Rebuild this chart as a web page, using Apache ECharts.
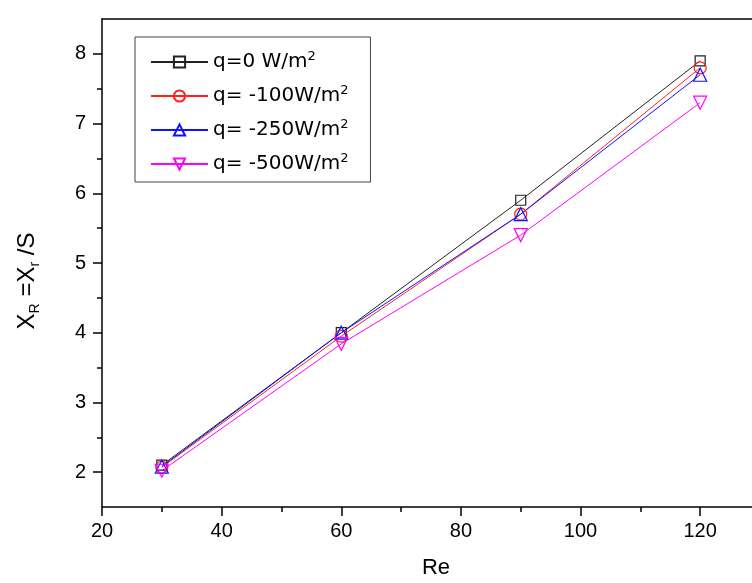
<!DOCTYPE html>
<html>
<head>
    <meta charset="utf-8" />
    <title>XR vs Re</title>
    <script src="https://cdn.jsdelivr.net/npm/echarts@6/dist/echarts.min.js"></script>
    <style>
        html, body { margin: 0; padding: 0; background: #fff; }
    </style>
</head>
<body>
    <div id="main" style="width: 752px;height:583px;"></div>
    <script type="text/javascript">
        // data
        var reValues = [30, 60, 90, 120];
        var q0 = [2.1, 4.0, 5.9, 7.9];
        var q100 = [2.07, 3.95, 5.7, 7.8];
        var q250 = [2.08, 4.0, 5.7, 7.7];
        var q500 = [2.02, 3.84, 5.4, 7.3];
        var seriesNames = ['q=0 W/m{sup|2}', 'q= -100W/m{sup|2}', 'q= -250W/m{sup|2}', 'q= -500W/m{sup|2}'];

        var xMajor = [20, 40, 60, 80, 100, 120];
        var xMinor = [30, 50, 70, 90, 110];
        var yMajor = [2, 3, 4, 5, 6, 7, 8];
        var yMinor = [2.5, 3.5, 4.5, 5.5, 6.5, 7.5];

        var font = 'Liberation Sans, Arial, sans-serif';
        var legendFont = 'DejaVu Sans, sans-serif';
        var myChart = echarts.init(document.getElementById('main'));

        function pairs(ys) {
            return reValues.map(function (x, i) { return [x, ys[i]]; });
        }

        function makeSeries(name, ys, color, symbol, rotate, size) {
            return {
                name: name,
                type: 'line',
                data: pairs(ys),
                symbol: symbol,
                symbolSize: size,
                symbolRotate: rotate,
                showAllSymbol: true,
                lineStyle: { color: color, width: 1 },
                itemStyle: { color: 'rgba(255,255,255,0)', borderColor: color, borderWidth: 1.2 },
                emphasis: { disabled: true },
                z: 3
            };
        }

        // the plot runs past the right edge of the picture (130 is just off-canvas)
        var xCommon = {
            type: 'value', min: 20, max: 130,
            axisLine: { lineStyle: { color: '#000', width: 1.5 } },
            splitLine: { show: false }
        };
        var yCommon = {
            type: 'value', min: 1.5, max: 8.5,
            axisLine: { lineStyle: { color: '#000', width: 1.5 } },
            splitLine: { show: false }
        };

        var option = {
            animation: false,
            textStyle: { fontFamily: font },
            grid: { left: 102, top: 19, right: -8, bottom: 76, outerBoundsMode: 'none', containLabel: false },
            legend: {
                orient: 'vertical',
                left: 135, top: 37,
                padding: [13, 22, 6, 15],
                itemWidth: 57, itemHeight: 14,
                itemGap: 10,
                borderColor: '#444', borderWidth: 1,
                textStyle: {
                    fontFamily: legendFont, fontSize: 20, color: '#000', lineHeight: 24,
                    rich: { sup: { fontSize: 13, verticalAlign: 'top', lineHeight: 14, color: '#000', fontFamily: legendFont } }
                }
            },
            xAxis: [
                Object.assign({}, xCommon, {
                    position: 'bottom',
                    interval: 20,
                    name: 'Re', nameLocation: 'middle', nameGap: 50,
                    nameTextStyle: { fontSize: 22, color: '#000', fontFamily: font, padding: [0, 0, 0, 10] },
                    axisTick: { show: true, length: 9, lineStyle: { width: 1.5, color: '#000' } },
                    axisLabel: {
                        fontSize: 20, color: '#000', margin: 14, fontFamily: font, showMaxLabel: false,
                        formatter: function (v) { return xMajor.indexOf(v) >= 0 ? String(v) : ''; }
                    }
                }),
                Object.assign({}, xCommon, {
                    position: 'bottom',
                    axisLine: { show: false },
                    axisTick: { show: true, length: 5, lineStyle: { width: 1.5, color: '#000' }, customValues: xMinor },
                    axisLabel: { show: false }
                }),
                Object.assign({}, xCommon, {
                    position: 'top',
                    axisTick: { show: false },
                    axisLabel: { show: false }
                })
            ],
            yAxis: [
                Object.assign({}, yCommon, {
                    position: 'left',
                    name: 'X{sub|R} =X{sub|r} /S', nameLocation: 'middle', nameGap: 60,
                    nameTextStyle: {
                        fontSize: 24, color: '#000', fontFamily: font, lineHeight: 30,
                        padding: [0, 36, 0, 0],
                        rich: { sub: { fontSize: 14, verticalAlign: 'bottom', lineHeight: 14, color: '#000', fontFamily: font } }
                    },
                    axisTick: { show: true, length: 9, lineStyle: { width: 1.5, color: '#000' }, customValues: yMajor },
                    axisLabel: { fontSize: 20, color: '#000', margin: 16, customValues: yMajor, fontFamily: font }
                }),
                Object.assign({}, yCommon, {
                    position: 'left',
                    axisLine: { show: false },
                    axisTick: { show: true, length: 5, lineStyle: { width: 1.5, color: '#000' }, customValues: yMinor },
                    axisLabel: { show: false }
                })
            ],
            series: [
                makeSeries(seriesNames[0], q0, '#222', 'rect', 0, 10),
                makeSeries(seriesNames[1], q100, '#ff2020', 'circle', 0, 12),
                makeSeries(seriesNames[2], q250, '#1010ff', 'triangle', 0, 13),
                makeSeries(seriesNames[3], q500, '#ff00ff', 'triangle', 180, 13)
            ]
        };

        myChart.setOption(option);
    </script>
</body>
</html>
